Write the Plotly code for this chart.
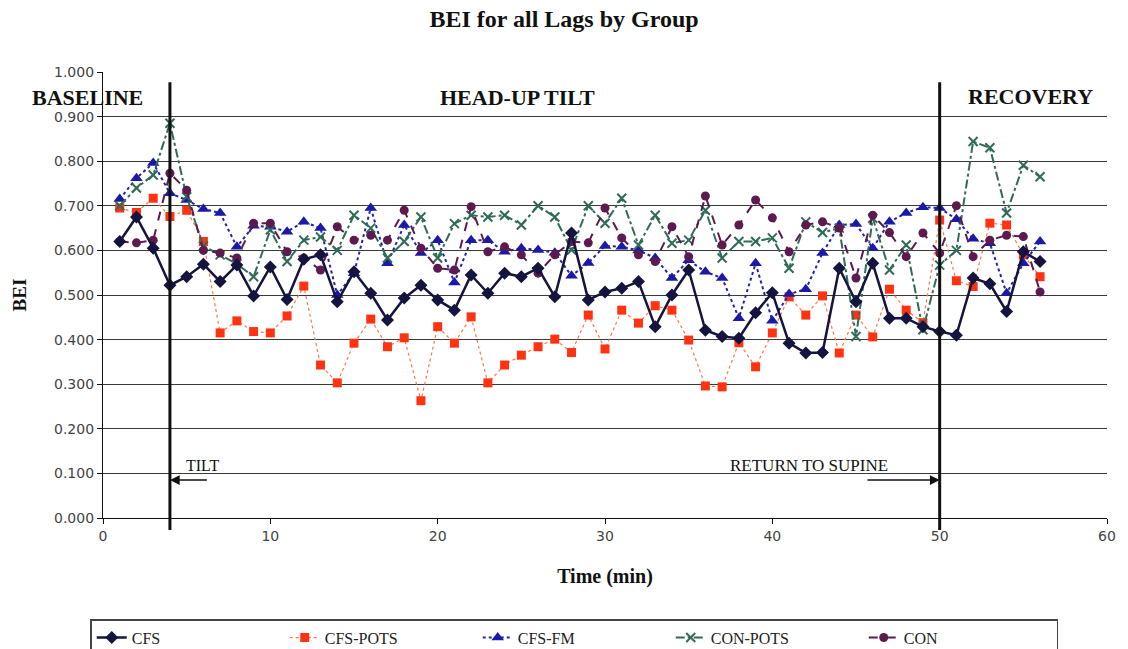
import plotly.graph_objects as go

time_min = list(range(1, 57))

cfs = [0.62, 0.675, 0.605, 0.522, 0.541, 0.569, 0.53, 0.567, 0.498, 0.563,
       0.49, 0.58, 0.59, 0.485, 0.552, 0.504, 0.444, 0.493, 0.522, 0.489,
       0.466, 0.545, 0.504, 0.549, 0.541, 0.56, 0.496, 0.639, 0.489, 0.507,
       0.515, 0.53, 0.429, 0.50, 0.556, 0.421, 0.407, 0.403, 0.46, 0.505,
       0.392, 0.37, 0.371, 0.56, 0.485, 0.571, 0.448, 0.448, 0.429, 0.418,
       0.41, 0.538, 0.525, 0.463, 0.597, 0.575]

cfs_pots = [0.695, 0.685, 0.717, 0.676, 0.69, 0.62, 0.415, 0.442, 0.418, 0.415,
            0.453, 0.52, 0.343, 0.303, 0.392, 0.446, 0.384, 0.404, 0.263, 0.429,
            0.392, 0.451, 0.303, 0.343, 0.365, 0.384, 0.401, 0.371, 0.455, 0.379,
            0.466, 0.437, 0.476, 0.466, 0.399, 0.296, 0.294, 0.393, 0.339, 0.415,
            0.496, 0.455, 0.498, 0.37, 0.455, 0.406, 0.513, 0.466, 0.438, 0.668,
            0.532, 0.519, 0.661, 0.657, 0.59, 0.541]

cfs_fm = [0.715, 0.762, 0.796, 0.728, 0.713, 0.693, 0.684, 0.608, 0.655, 0.653,
          0.642, 0.664, 0.65, 0.5, 0.549, 0.695, 0.571, 0.657, 0.594, 0.623,
          0.528, 0.623, 0.623, 0.597, 0.605, 0.601, 0.595, 0.543, 0.572, 0.61,
          0.608, 0.60, 0.583, 0.538, 0.578, 0.552, 0.538, 0.448, 0.571, 0.442,
          0.502, 0.513, 0.594, 0.657, 0.659, 0.605, 0.664, 0.684, 0.697, 0.695,
          0.67, 0.626, 0.616, 0.504, 0.571, 0.62]

con_pots = [0.70, 0.74, 0.769, 0.885, 0.72, 0.61, 0.59, 0.57, 0.541, 0.646,
            0.575, 0.623, 0.63, 0.60, 0.679, 0.65, 0.583, 0.62, 0.675, 0.583,
            0.66, 0.679, 0.675, 0.679, 0.657, 0.70, 0.675, 0.601, 0.70, 0.661,
            0.717, 0.612, 0.679, 0.616, 0.623, 0.69, 0.583, 0.62, 0.62, 0.628,
            0.56, 0.664, 0.64, 0.65, 0.407, 0.672, 0.556, 0.612, 0.422, 0.567,
            0.60, 0.844, 0.83, 0.684, 0.791, 0.765]

con = [0.62, 0.617, 0.623, 0.773, 0.735, 0.60, 0.594, 0.583, 0.661, 0.661,
       0.597, 0.583, 0.556, 0.653, 0.623, 0.634, 0.623, 0.69, 0.605, 0.56,
       0.556, 0.698, 0.597, 0.608, 0.59, 0.549, 0.59, 0.62, 0.617, 0.695,
       0.628, 0.59, 0.575, 0.653, 0.586, 0.722, 0.612, 0.657, 0.713, 0.673,
       0.597, 0.657, 0.664, 0.65, 0.538, 0.679, 0.64, 0.586, 0.639, 0.594,
       0.70, 0.586, 0.623, 0.634, 0.631, 0.507]

y_ticks = [0.0, 0.1, 0.2, 0.3, 0.4, 0.5, 0.6, 0.7, 0.8, 0.9, 1.0]
x_ticks = [0, 10, 20, 30, 40, 50, 60]

tilt_start = 4
tilt_end = 50

SERIF = "Liberation Serif, Times New Roman, serif"
SANS = "DejaVu Sans, Verdana, sans-serif"

fig = go.Figure()

fig.add_trace(go.Scatter(x=time_min, y=cfs_pots, name="CFS-POTS", mode="lines+markers",
                         line=dict(color="#ff7744", width=1.2, dash="dot"),
                         marker=dict(symbol="square", size=9, color="#ff3311")))
fig.add_trace(go.Scatter(x=time_min, y=cfs_fm, name="CFS-FM", mode="lines+markers",
                         line=dict(color="#2222aa", width=2, dash="dot"),
                         marker=dict(symbol="triangle-up", size=11, color="#1a1aa6")))
fig.add_trace(go.Scatter(x=time_min, y=con_pots, name="CON-POTS", mode="lines+markers",
                         line=dict(color="#2f6b55", width=2, dash="dashdot"),
                         marker=dict(symbol="x-thin", size=9, color="#2f6b55",
                                     line=dict(width=2, color="#2f6b55"))))
fig.add_trace(go.Scatter(x=time_min, y=con, name="CON", mode="lines+markers",
                         line=dict(color="#5c1a4e", width=2, dash="dash"),
                         marker=dict(symbol="circle", size=9, color="#5c1a4e")))
fig.add_trace(go.Scatter(x=time_min, y=cfs, name="CFS", mode="lines+markers",
                         line=dict(color="#14143f", width=2.5),
                         marker=dict(symbol="diamond", size=10, color="#14143f")))

for xv in (tilt_start, tilt_end):
    fig.add_shape(type="line", xref="x", yref="paper", x0=xv, x1=xv, y0=-0.027, y1=0.977,
                  line=dict(color="#111111", width=3))

fig.add_annotation(x=-0.015, y=0.942, xref="paper", yref="y", text="<b>BASELINE</b>",
                   xanchor="center", showarrow=False,
                   font=dict(family=SERIF, size=22, color="#111111"))
annots = [
    dict(x=24.8, y=0.942, text="<b>HEAD-UP TILT</b>", size=22),
    dict(x=55.4, y=0.945, text="<b>RECOVERY</b>", size=22),
    dict(x=5.93, y=0.117, text="TILT", size=16),
    dict(x=42.2, y=0.117, text="RETURN TO SUPINE", size=17),
]
for a in annots:
    fig.add_annotation(x=a["x"], y=a["y"], xref="x", yref="y", text=a["text"],
                       xanchor="center", showarrow=False,
                       font=dict(family=SERIF, size=a["size"], color="#111111"))

fig.add_annotation(x=tilt_start, y=0.085, ax=6.3, ay=0.085, xref="x", yref="y",
                   axref="x", ayref="y", text="", showarrow=True, arrowhead=2,
                   arrowsize=1.3, arrowwidth=1.5, arrowcolor="#111111")
fig.add_annotation(x=tilt_end, y=0.085, ax=45.6, ay=0.085, xref="x", yref="y",
                   axref="x", ayref="y", text="", showarrow=True, arrowhead=2,
                   arrowsize=1.3, arrowwidth=1.5, arrowcolor="#111111")

fig.update_layout(
    width=1128, height=649,
    margin=dict(l=103, r=21, t=72, b=131, autoexpand=False),
    paper_bgcolor="white", plot_bgcolor="white",
    title=dict(text="<b>BEI for all Lags by Group</b>", x=0.5, xref="container",
               y=0.972, yanchor="middle",
               font=dict(family=SERIF, size=24, color="#111111")),
    font=dict(family=SERIF, size=14, color="#222222"),
    legend=dict(orientation="h", xref="container", yref="container",
                x=0.08, xanchor="left", y=0.046, yanchor="top",
                traceorder="normal", entrywidth=148, entrywidthmode="pixels",
                bordercolor="#444444", borderwidth=1.5,
                font=dict(family=SERIF, size=16, color="#222222")),
    xaxis=dict(range=[0, 60], tickvals=x_ticks, showgrid=False, zeroline=False,
               showline=True, linecolor="#111111", linewidth=1.2,
               ticks="outside", ticklen=5, tickcolor="#111111",
               tickfont=dict(family=SANS, size=14, color="#444444"),
               title=dict(text="<b>Time (min)</b>", standoff=26,
                          font=dict(family=SERIF, size=20, color="#111111"))),
    yaxis=dict(range=[0, 1.0], tickvals=y_ticks, tickformat=".3f",
               showgrid=True, gridcolor="#3a3a3a", gridwidth=1, zeroline=False,
               showline=True, linecolor="#111111", linewidth=1.2,
               ticks="outside", ticklen=5, tickcolor="#111111",
               tickfont=dict(family=SANS, size=14, color="#444444"),
               title=dict(text="<b>BEI</b>", standoff=22,
                          font=dict(family=SERIF, size=19, color="#111111"))),
)

order = ["CFS", "CFS-POTS", "CFS-FM", "CON-POTS", "CON"]
for i, nm in enumerate(order):
    for tr in fig.data:
        if tr.name == nm:
            tr.legendrank = i + 1

fig.write_html("out.html")
